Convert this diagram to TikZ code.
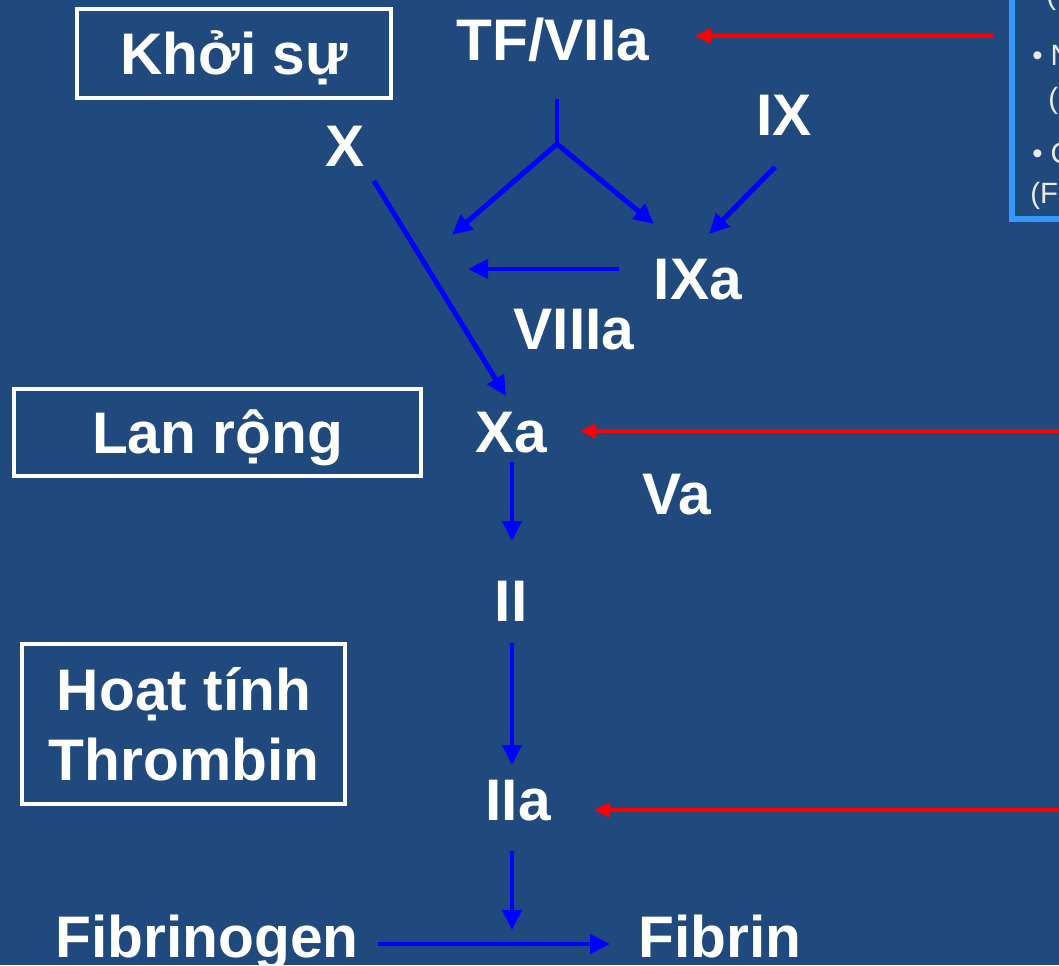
\documentclass[tikz,border=0pt]{standalone}
\usepackage{fontspec}
\setmainfont{Liberation Sans}
\usetikzlibrary{arrows.meta}
\definecolor{bgblue}{RGB}{32,73,125}
\definecolor{arrblue}{RGB}{0,0,255}
\definecolor{arrred}{RGB}{255,0,0}
\definecolor{boxblue}{RGB}{51,153,255}
\definecolor{boxtext}{RGB}{235,235,235}
\begin{document}
\begin{tikzpicture}[x=0.75pt,y=-0.75pt,
  lbl/.style={text=white,font=\fontsize{44}{52.5}\selectfont\bfseries,inner sep=0pt,anchor=base},
  framebox/.style={draw=white,line width=3pt,text=white,font=\fontsize{44}{52.5}\selectfont\bfseries,
    inner sep=0pt,text height=31.5pt,text depth=0pt,align=center},
  small/.style={text=boxtext,font=\fontsize{22}{26}\selectfont,inner sep=0pt,anchor=base west},
  barrow/.style={draw=arrblue,line width=3.7pt,-{Triangle[length=15pt,width=14pt]}},
  bline/.style={draw=arrblue,line width=3.7pt},
  rarrow/.style={draw=arrred,line width=3.6pt,-{Triangle[length=12pt,width=11pt]}}]
\fill[bgblue] (0,0) rectangle (1059,965);
\useasboundingbox (0,0) rectangle (1059,965);
\clip (0,0) rectangle (1059,965);

% framed stage labels
\node[framebox,minimum width=235.5pt,minimum height=66.75pt] (khoi) at (234,53.5) {Khởi sự};
\node[framebox,minimum width=305.25pt,minimum height=65.25pt] (lan) at (217.5,432.5) {Lan rộng};
\node[draw=white,line width=3pt,minimum width=242.25pt,minimum height=120pt,inner sep=0pt] (hoatbox) at (183.5,724) {};
\node[lbl] (hoat) at (184,710) {Hoạt tính};
\node[lbl] (thromb) at (184,780) {Thrombin};

% factor labels
\node[lbl] (TF) at (553,60) {TF/VIIa};
\node[lbl] (X) at (345,166) {X};
\node[lbl] (IX) at (784,135) {IX};
\node[lbl] (IXa) at (698,299) {IXa};
\node[lbl] (VIIIa) at (574,349) {VIIIa};
\node[lbl] (Xa) at (511,452) {Xa};
\node[lbl] (Va) at (677,514) {Va};
\node[lbl] (II) at (511,621) {II};
\node[lbl] (IIa) at (518,820) {IIa};
\node[lbl] (fgen) at (207,957) {Fibrinogen};
\node[lbl] (fib) at (720,957) {Fibrin};

% connector end points
\coordinate (forktop) at (557,99);
\coordinate (forkmid) at (557,144);
\coordinate (forkL) at (452,235);
\coordinate (forkR) at (654,224);
\coordinate (IXs) at (775,167);
\coordinate (IXt) at (709,234);
\coordinate (IXas) at (619,269);
\coordinate (IXat) at (468,269);
\coordinate (Xs) at (374,181);
\coordinate (Xt) at (506,396);
\coordinate (Xad1) at (512,462);
\coordinate (Xad2) at (512,541);
\coordinate (IId1) at (512,643);
\coordinate (IId2) at (512,765);
\coordinate (IIad1) at (512,851);
\coordinate (IIad2) at (512,930);
\coordinate (fgs) at (378,944);
\coordinate (fgt) at (610,944);
\coordinate (r1s) at (993,36);
\coordinate (r1t) at (695,36);
\coordinate (r2s) at (1070,431);
\coordinate (r2t) at (580,431);
\coordinate (r3s) at (1070,810);
\coordinate (r3t) at (594,810);

% blue connectors
\draw[bline] (forktop) -- (forkmid);
\draw[barrow] (forkmid) -- (forkL);
\draw[barrow] (forkmid) -- (forkR);
\draw[barrow] (IXs) -- (IXt);
\draw[barrow] (IXas) -- (IXat);
\draw[barrow] (Xs) -- (Xt);
\draw[barrow] (Xad1) -- (Xad2);
\draw[barrow] (IId1) -- (IId2);
\draw[barrow] (IIad1) -- (IIad2);
\draw[barrow] (fgs) -- (fgt);

% red connectors
\draw[rarrow] (r1s) -- (r1t);
\draw[rarrow] (r2s) -- (r2t);
\draw[rarrow] (r3s) -- (r3t);

% cropped side box
\draw[boxblue,line width=3.8pt] (1100,-20) -- (1012,-20) -- (1012,219) -- (1100,219);
\node[small] (t1) at (1046,4) {(};
\node[small] (t2) at (1032,65) {• N};
\node[small] (t3) at (1048,108) {(};
\node[small] (t4) at (1032,163) {• C};
\node[small] (t5) at (1030,203) {(F};
\end{tikzpicture}
\end{document}
